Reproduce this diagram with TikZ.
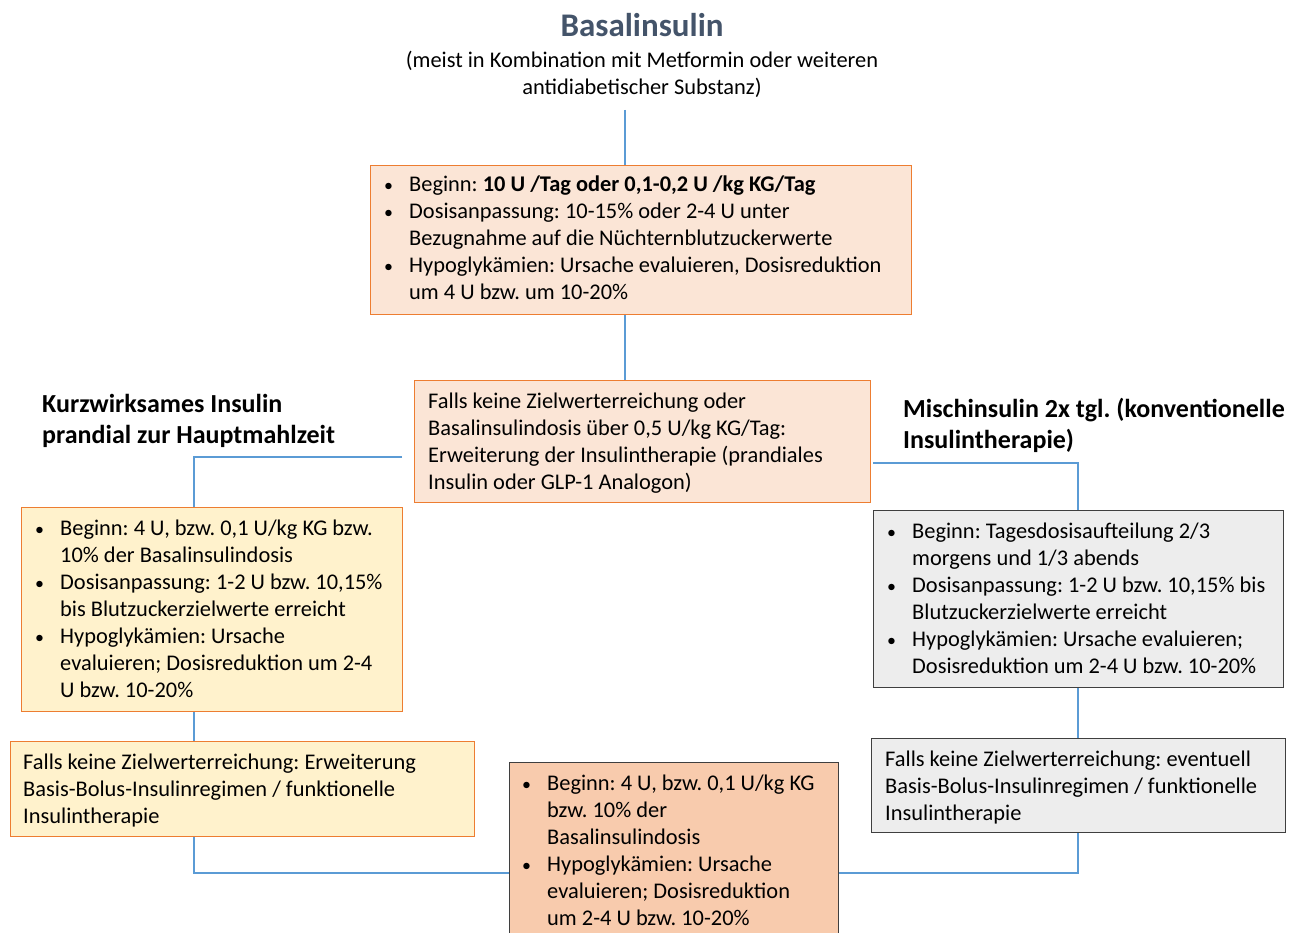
\documentclass[tikz,border=0pt]{standalone}
\usepackage{fontspec}
\setmainfont{Carlito}
\frenchspacing
\definecolor{titleblue}{HTML}{44546A}
\definecolor{peachfill}{HTML}{FBE5D6}
\definecolor{salmonfill}{HTML}{F8CBAD}
\definecolor{creamfill}{HTML}{FFF2CC}
\definecolor{grayfill}{HTML}{EDEDED}
\definecolor{orangeline}{HTML}{ED7D31}
\definecolor{darkline}{HTML}{3F3F3F}
\definecolor{linkblue}{HTML}{5B9BD5}
\newcommand\bodyfont{\fontsize{22.4}{27}\selectfont}
\newcommand\bu{\makebox[27pt][l]{\hspace{2pt}\scalebox{0.8}{\textbullet}}}
\newcommand\ind{\hspace*{27pt}}
% line stacks whose baseline is that of their first line
\newcommand\leftlines[1]{\begin{tabular}[t]{@{}l@{}}#1\end{tabular}}
\newcommand\centerlines[1]{\begin{tabular}[t]{@{}c@{}}#1\end{tabular}}
\tikzset{
  panel/.style={rectangle, inner sep=0pt, anchor=north west, line width=1.4pt},
  orangebox/.style={panel, draw=orangeline, fill=peachfill},
  creambox/.style={panel, draw=orangeline, fill=creamfill},
  graybox/.style={panel, draw=darkline, fill=grayfill},
  salmonbox/.style={panel, draw=darkline, fill=salmonfill},
  txt/.style={inner sep=0pt, anchor=base west, font=\bodyfont},
  heading/.style={inner sep=0pt, anchor=base west, font=\fontsize{26}{31}\selectfont\bfseries},
  link/.style={draw=linkblue, line width=1.1pt},
}
\begin{document}
\begin{tikzpicture}[x=1pt,y=-1pt]
\clip (0,0) rectangle (1292,933);
\fill[white] (0,0) rectangle (1292,933);

% title block
\node[inner sep=0pt, anchor=base, font=\fontsize{33}{40}\selectfont\bfseries, text=titleblue] (title) at (642,37) {Basalinsulin};
\node[inner sep=0pt, anchor=base, font=\bodyfont] (sub) at (642,68)
  {\centerlines{(meist in Kombination mit Metformin oder weiteren\\antidiabetischer Substanz)}};

% boxes
\node[orangebox, minimum width=541, minimum height=149] (start) at (370,165) {};
\node[orangebox, minimum width=456, minimum height=122] (check) at (414,380) {};
\node[creambox, minimum width=381, minimum height=204] (kurz) at (21,507) {};
\node[graybox, minimum width=410, minimum height=177] (misch) at (873,510) {};
\node[creambox, minimum width=464, minimum height=95] (kurzext) at (10,741) {};
\node[graybox, minimum width=414, minimum height=94] (mischext) at (871,738) {};
\node[salmonbox, minimum width=329, minimum height=200] (bolus) at (509,762) {};

% box texts
\node[txt] (starttxt) at (382,192) {\leftlines{\bu Beginn: \textbf{10 U /Tag oder 0,1-0,2 U /kg KG/Tag}\\
  \bu Dosisanpassung: 10-15\% oder 2-4 U unter\\
  \ind Bezugnahme auf die Nüchternblutzuckerwerte\\
  \bu Hypoglykämien: Ursache evaluieren, Dosisreduktion\\
  \ind um 4 U bzw. um 10-20\%}};
\node[txt] (checktxt) at (428,408) {\leftlines{Falls keine Zielwerterreichung oder\\
  Basalinsulindosis über 0,5 U/kg KG/Tag:\\
  Erweiterung der Insulintherapie (prandiales\\
  Insulin oder GLP-1 Analogon)}};
\node[heading] (kurzhead) at (42,412) {\leftlines{Kurzwirksames Insulin\\prandial zur Hauptmahlzeit}};
\node[heading] (mischhead) at (903,417) {\leftlines{Mischinsulin 2x tgl. (konventionelle\\Insulintherapie)}};
\node[txt] (kurztxt) at (33,535) {\leftlines{\bu Beginn: 4 U, bzw. 0,1 U/kg KG bzw.\\
  \ind 10\% der Basalinsulindosis\\
  \bu Dosisanpassung: 1-2 U bzw. 10,15\%\\
  \ind bis Blutzuckerzielwerte erreicht\\
  \bu Hypoglykämien: Ursache\\
  \ind evaluieren; Dosisreduktion um 2-4\\
  \ind U bzw. 10-20\%}};
\node[txt] (mischtxt) at (885,538) {\leftlines{\bu Beginn: Tagesdosisaufteilung 2/3\\
  \ind morgens und 1/3 abends\\
  \bu Dosisanpassung: 1-2 U bzw. 10,15\% bis\\
  \ind Blutzuckerzielwerte erreicht\\
  \bu Hypoglykämien: Ursache evaluieren;\\
  \ind Dosisreduktion um 2-4 U bzw. 10-20\%}};
\node[txt] (kurzexttxt) at (23,769) {\leftlines{Falls keine Zielwerterreichung: Erweiterung\\
  Basis-Bolus-Insulinregimen / funktionelle\\
  Insulintherapie}};
\node[txt] (mischexttxt) at (885,766) {\leftlines{Falls keine Zielwerterreichung: eventuell\\
  Basis-Bolus-Insulinregimen / funktionelle\\
  Insulintherapie}};
\node[txt] (bolustxt) at (520,790) {\leftlines{\bu Beginn: 4 U, bzw. 0,1 U/kg KG\\
  \ind bzw. 10\% der\\
  \ind Basalinsulindosis\\
  \bu Hypoglykämien: Ursache\\
  \ind evaluieren; Dosisreduktion\\
  \ind um 2-4 U bzw. 10-20\%}};

% connectors
\coordinate (spine) at (625,0);
\coordinate (leftrail) at (194,0);
\coordinate (rightrail) at (1078,0);
\coordinate (leftjoin) at (402,457);
\coordinate (rightjoin) at (873,463);
\coordinate (bottomrow) at (0,873);
\draw[link] (spine |- 0,110) -- (spine |- start.north);
\draw[link] (spine |- start.south) -- (spine |- check.north);
\draw[link] (leftjoin) -- (leftrail |- leftjoin) -- (leftrail |- kurz.north);
\draw[link] (rightjoin) -- (rightrail |- rightjoin) -- (rightrail |- misch.north);
\draw[link] (leftrail |- kurz.south) -- (leftrail |- kurzext.north);
\draw[link] (rightrail |- misch.south) -- (rightrail |- mischext.north);
\draw[link] (leftrail |- kurzext.south) -- (leftrail |- bottomrow) -- (bolus.west |- bottomrow);
\draw[link] (rightrail |- mischext.south) -- (rightrail |- bottomrow) -- (bolus.east |- bottomrow);
\end{tikzpicture}
\end{document}
